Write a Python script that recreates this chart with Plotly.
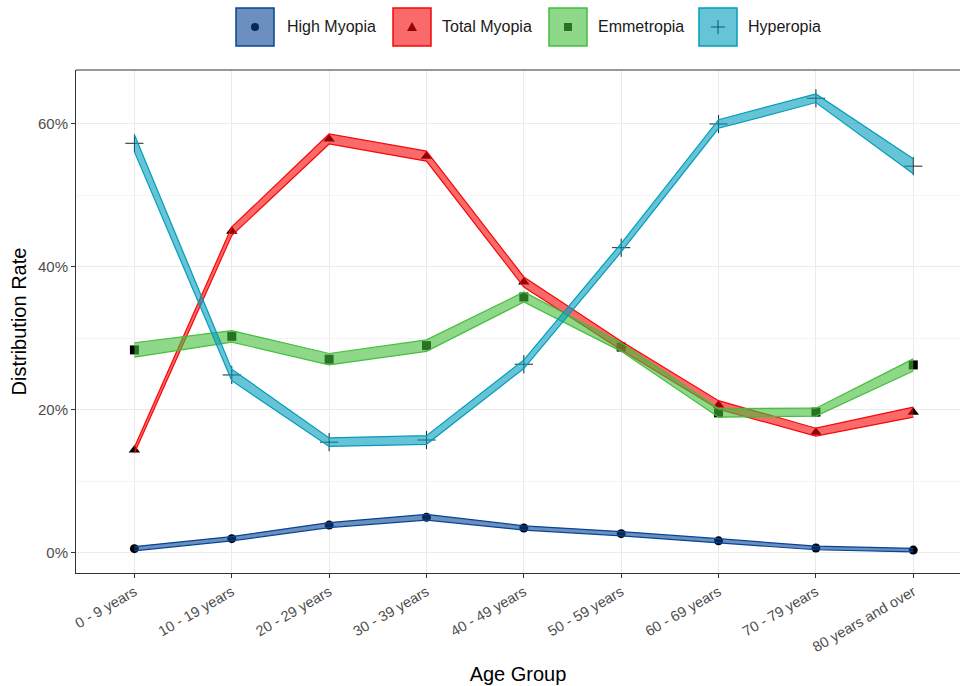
import plotly.graph_objects as go

categories = ["0 - 9 years", "10 - 19 years", "20 - 29 years", "30 - 39 years",
              "40 - 49 years", "50 - 59 years", "60 - 69 years", "70 - 79 years",
              "80 years and over"]

series_names = ["High Myopia", "Total Myopia", "Emmetropia", "Hyperopia"]

high_myopia = [0.6, 2.0, 3.9, 5.0, 3.5, 2.7, 1.7, 0.7, 0.4]
total_myopia = [14.4, 45.0, 57.9, 55.5, 37.9, 29.0, 20.7, 16.9, 19.7]
emmetropia = [28.4, 30.3, 27.1, 29.0, 35.8, 28.8, 19.6, 19.7, 26.3]
hyperopia = [57.3, 24.9, 15.5, 15.8, 26.4, 42.7, 60.0, 63.6, 54.1]

# half-width of the shaded band (percentage points)
high_myopia_hw = [0.3, 0.3, 0.35, 0.4, 0.3, 0.3, 0.3, 0.25, 0.25]
total_myopia_hw = [0.4, 0.6, 0.7, 0.7, 0.7, 0.6, 0.6, 0.55, 0.7]
emmetropia_hw = [1.0, 0.8, 0.8, 0.8, 0.7, 0.6, 0.6, 0.55, 0.85]
hyperopia_hw = [1.2, 0.8, 0.6, 0.6, 0.6, 0.6, 0.6, 0.6, 1.05]

y_ticks = [0, 20, 40, 60]
y_tick_labels = ["0%", "20%", "40%", "60%"]
y_minor = [10, 30, 50]

values = [high_myopia, total_myopia, emmetropia, hyperopia]
halfwidths = [high_myopia_hw, total_myopia_hw, emmetropia_hw, hyperopia_hw]
colors = [(8, 68, 148), (248, 7, 7), (68, 190, 60), (0, 157, 187)]
symbols = ["circle", "triangle-up", "square", "cross-thin"]
ALPHA = 0.6


def rgb(c):
    return "rgb(%d,%d,%d)" % c


def rgba(c, a):
    return "rgba(%d,%d,%d,%.2f)" % (c[0], c[1], c[2], a)


fig = go.Figure()

# points first (drawn beneath the bands)
for name, vals, sym in zip(series_names, values, symbols):
    if sym == "cross-thin":
        marker = dict(symbol=sym, size=13, color="black",
                      line=dict(color="#222222", width=1))
    else:
        marker = dict(symbol=sym, size=9 if sym != "triangle-up" else 10, color="black")
    fig.add_trace(go.Scatter(x=categories, y=vals, mode="markers", marker=marker,
                             showlegend=False, name=name, hoverinfo="skip"))

# bands
for name, vals, hw, col in zip(series_names, values, halfwidths, colors):
    lower = [v - h for v, h in zip(vals, hw)]
    upper = [v + h for v, h in zip(vals, hw)]
    fig.add_trace(go.Scatter(x=categories, y=lower, mode="lines",
                             line=dict(color=rgb(col), width=1.2),
                             showlegend=False, name=name, hoverinfo="skip"))
    fig.add_trace(go.Scatter(x=categories, y=upper, mode="lines", fill="tonexty",
                             fillcolor=rgba(col, ALPHA),
                             line=dict(color=rgb(col), width=1.2),
                             showlegend=False, name=name))

# plot area in screenshot pixels (panel runs past the right edge of the picture)
L, R, T, B = 76, 960, 70, 573
W, H = 960, 686


def px_x(p):
    return (p - L) / (R - L)


def px_y(p):
    return (B - p) / (B - T)


shapes = []
annotations = []

# top panel border
shapes.append(dict(type="line", xref="paper", yref="paper", x0=0, x1=1.02, y0=1, y1=1,
                   line=dict(color="#333333", width=1)))

# manual legend (ggplot style keys)
box_centers = [255, 412, 568, 718]
text_starts = [285, 440, 596, 746]
ly = px_y(27)
for name, col, sym, cx, tx in zip(series_names, colors, symbols, box_centers, text_starts):
    xa = px_x(cx)
    common = dict(xref="paper", yref="paper", xsizemode="pixel", ysizemode="pixel",
                  xanchor=xa, yanchor=ly)
    if sym == "circle":
        shapes.append(dict(type="circle", x0=-4, x1=4, y0=-4, y1=4,
                           fillcolor="black", line=dict(width=0), **common))
    elif sym == "triangle-up":
        shapes.append(dict(type="path", path="M -5,-4 L 5,-4 L 0,5 Z",
                           fillcolor="black", line=dict(width=0), **common))
    elif sym == "square":
        shapes.append(dict(type="rect", x0=-4, x1=4, y0=-4, y1=4,
                           fillcolor="black", line=dict(width=0), **common))
    else:
        shapes.append(dict(type="path", path="M -7,0 L 7,0 M 0,-7 L 0,7",
                           line=dict(color="black", width=1), **common))
    shapes.append(dict(type="rect", x0=-19, x1=19, y0=-19, y1=19,
                       fillcolor=rgba(col, ALPHA), line=dict(color=rgb(col), width=1.5),
                       **common))
    annotations.append(dict(x=px_x(tx), y=ly, xref="paper", yref="paper",
                            xanchor="left", yanchor="middle", text=name, showarrow=False,
                            font=dict(size=16, color="#1a1a1a")))

fig.update_layout(
    width=W, height=H,
    margin=dict(l=L, r=W - R, t=T, b=H - B, pad=0),
    paper_bgcolor="white", plot_bgcolor="white",
    font=dict(family="Liberation Sans, Arial, sans-serif"),
    shapes=shapes, annotations=annotations,
    showlegend=False,
)

fig.update_xaxes(
    type="category", range=[-0.6, len(categories) - 1 + 0.48],
    tickangle=-30, tickfont=dict(size=14.5, color="#4d4d4d"),
    ticks="outside", ticklen=4, tickcolor="#333333",
    showgrid=True, gridcolor="#ebebeb", gridwidth=1,
    showline=True, mirror=False, linecolor="#333333", linewidth=1,
    zeroline=False,
    title=dict(text="Age Group", font=dict(size=20, color="black"), standoff=12),
    automargin=False,
)

fig.update_yaxes(
    range=[-2.8, 67.55], tickmode="array", tickvals=y_ticks, ticktext=y_tick_labels,
    tickfont=dict(size=15, color="#4d4d4d"),
    ticks="outside", ticklen=4, tickcolor="#333333",
    showgrid=True, gridcolor="#ebebeb", gridwidth=1,
    minor=dict(tickvals=y_minor, showgrid=True, gridcolor="#f4f4f4", gridwidth=0.7, ticks=""),
    showline=True, mirror=False, linecolor="#333333", linewidth=1,
    zeroline=False,
    title=dict(text="Distribution Rate", font=dict(size=20, color="black"), standoff=5),
    automargin=False,
)

fig.write_html(
    "out.html",
    config={"displayModeBar": False},
    post_script="document.body.style.margin='0';document.body.style.overflow='hidden';",
)
